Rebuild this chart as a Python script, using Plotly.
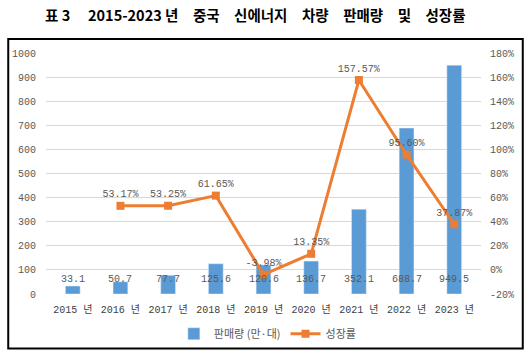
import plotly.graph_objects as go

years = ["2015 년", "2016 년", "2017 년", "2018 년", "2019 년", "2020 년", "2021 년", "2022 년", "2023 년"]
sales = [33.1, 50.7, 77.7, 125.6, 120.6, 136.7, 352.1, 688.7, 949.5]
growth = [None, 53.17, 53.25, 61.65, -3.98, 13.35, 157.57, 95.60, 37.87]
left_ticks = list(range(0, 1001, 100))
right_ticks = list(range(-20, 181, 20))

BLUE = "#5B9BD5"
ORANGE = "#ED7D31"
GRAY = "#595959"
NUMFONT = "Liberation Mono, Noto Sans CJK KR"

fig = go.Figure()
fig.add_trace(go.Bar(
    x=years, y=sales, name="판매량 (만·대)", marker_color=BLUE, width=0.31,
))
fig.add_trace(go.Scatter(
    x=years, y=growth, name="성장률", yaxis="y2", mode="lines+markers+text",
    line=dict(color=ORANGE, width=3), marker=dict(symbol="square", size=8, color=ORANGE),
    text=[("" if g is None else f"{g:.2f}%") for g in growth],
    textposition="top center", textfont=dict(family=NUMFONT, size=10, color=GRAY),
    connectgaps=False,
))

for yr, v in zip(years, sales):
    fig.add_annotation(x=yr, y=0, yref="y", text=f"{v:.1f}", showarrow=False,
                       yanchor="bottom", yshift=7,
                       font=dict(family=NUMFONT, size=10, color=GRAY))

S = "\u3000"
title_text = f"<b>표 3{S} 2015-2023 년{S}중국{S}신에너지{S}차량{S}판매량{S}및{S}성장률</b>"
fig.add_annotation(xref="paper", yref="paper", x=-0.008, y=1.16,
                   text=title_text,
                   showarrow=False, xanchor="left", yanchor="middle",
                   font=dict(family="Noto Sans CJK KR", size=14.5, color="#000000"))

# outer frame of the chart
fig.add_shape(type="rect", xref="paper", yref="paper",
              x0=-0.0868, x1=1.096, y0=-0.2263, y1=1.0576,
              line=dict(color="#000000", width=2))

fig.update_layout(
    width=531, height=360,
    margin=dict(l=43, r=50, t=53, b=64),
    paper_bgcolor="white", plot_bgcolor="white",
    bargap=0.69,
    font=dict(family=NUMFONT, size=10, color=GRAY),
    xaxis=dict(showline=False, ticks="", tickfont=dict(family=NUMFONT, size=10, color="#404040"),
               ticklabelstandoff=8, showgrid=False),
    yaxis=dict(range=[0, 1000], tickvals=left_ticks, showgrid=True, gridcolor="#D9D9D9",
               gridwidth=1, zeroline=False, showline=False, ticks="",
               tickfont=dict(family=NUMFONT, size=10, color=GRAY), ticklabelstandoff=9),
    yaxis2=dict(range=[-20, 180], tickvals=right_ticks, ticktext=[f"{t}%" for t in right_ticks],
                overlaying="y", side="right", showgrid=False, zeroline=False, showline=False,
                ticks="", tickfont=dict(family=NUMFONT, size=10, color=GRAY), ticklabelstandoff=8),
    legend=dict(orientation="h", x=0.51, xanchor="center", y=-0.165, yanchor="middle",
                font=dict(family="Noto Sans CJK KR", size=11, color=GRAY),
                itemwidth=30, bgcolor="rgba(0,0,0,0)"),
    showlegend=True,
)

fig.write_html("out.html", config={"displayModeBar": False},
               post_script="document.body.style.margin='0';")
